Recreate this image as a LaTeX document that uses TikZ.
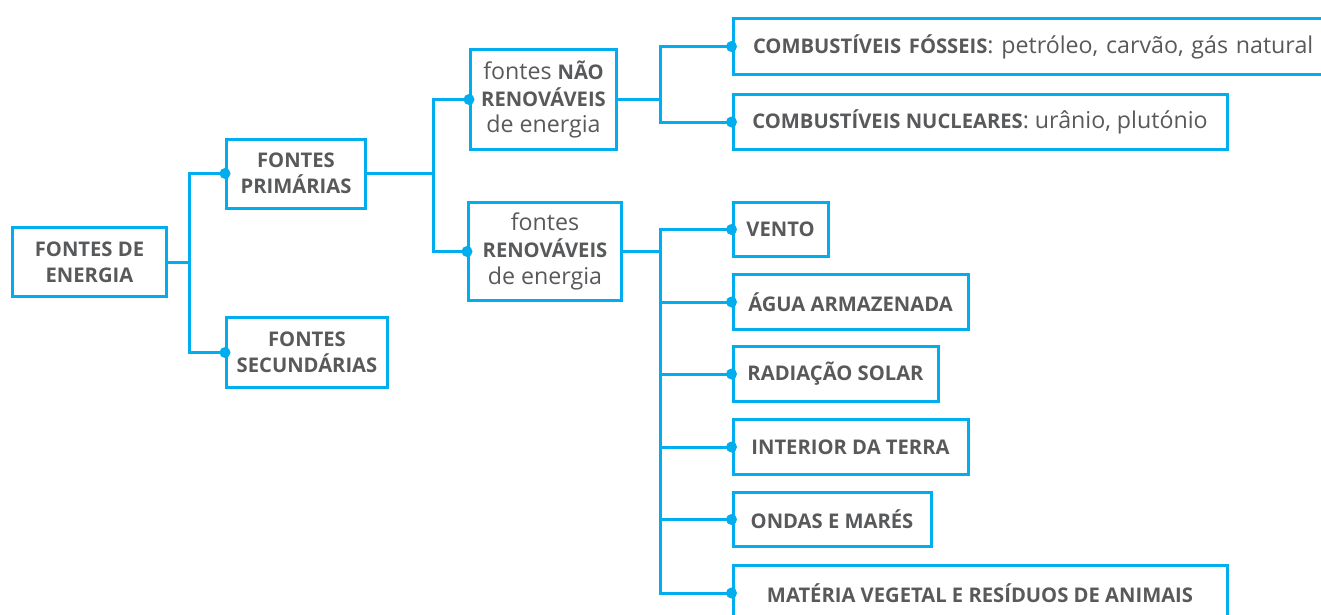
\documentclass[tikz,border=0pt]{standalone}
\usepackage{fontspec}
\setmainfont{Open Sans}
\usepackage{tikz}
\usetikzlibrary{positioning}
\usepackage{xcolor}

\definecolor{fontblue}{RGB}{0,174,239}
\definecolor{fontgray}{RGB}{88,89,91}

\newcommand{\caps}[1]{{\fontsize{20.2}{26.8}\selectfont\bfseries #1}}

\begin{document}
\begin{tikzpicture}[x=1pt,y=-1pt,
    fbox/.style={draw=fontblue, line width=3pt, text=fontgray, align=center, inner sep=0pt,
        font=\fontsize{23.2}{26.8}\selectfont},
    leaf/.style={fbox, anchor=west},
    link/.style={draw=fontblue, line width=3pt},
    knot/.style={fill=fontblue}]

\clip (0,0) rectangle (1321,614);

% left part
\begin{scope}
{
\node[fbox, minimum width=154, minimum height=69] (energia) at (89.5,262) {\caps{FONTES DE}\\[-1pt]\caps{ENERGIA}};

\node[fbox, minimum width=139, minimum height=69] (primarias) at (296,173.5) {\caps{FONTES}\\[-1pt]\caps{PRIMÁRIAS}};
\node[fbox, minimum width=161, minimum height=70] (secundarias) at (307,352.5) {\caps{FONTES}\\[-1pt]\caps{SECUNDÁRIAS}};

\node[fbox, minimum width=146, minimum height=100] (naorenov) at (543.5,99.5) {fontes \caps{NÃO}\\\caps{RENOVÁVEIS}\\de energia};
\node[fbox, minimum width=153, minimum height=98] (renov) at (545,251.5) {fontes\\\caps{RENOVÁVEIS}\\de energia};

\coordinate (t1) at (189,0);
\coordinate (t2) at (433,0);

\draw[link] (energia.east) -- (t1 |- energia.east) |- (primarias.west);
\draw[link] (t1 |- energia.east) |- (secundarias.west);
\draw[link] (primarias.east) -- (t2 |- primarias.east) |- (naorenov.west);
\draw[link] (t2 |- primarias.east) |- (renov.west);

\fill[knot] (primarias.west) circle [radius=5.5pt];
\fill[knot] (secundarias.west) circle [radius=5.5pt];
\fill[knot] (naorenov.west) circle [radius=5.5pt];
\fill[knot] (renov.west) circle [radius=5.5pt];
}
\end{scope}

% right part
\begin{scope}
{
\node[leaf, text width=580, align=left, inner xsep=20, minimum height=56] (fosseis) at (731.5,46.5) {\mbox{\caps{COMBUSTÍVEIS FÓSSEIS}: petróleo, carvão, gás natural}};
\node[leaf, minimum width=494, minimum height=55] (nucleares) at (731.5,122) {\caps{COMBUSTÍVEIS NUCLEARES}: urânio, plutónio};

\node[leaf, minimum width=95, minimum height=54] (vento) at (731.5,229.5) {\caps{VENTO}};
\node[leaf, minimum width=235, minimum height=55] (agua) at (731.5,302) {\caps{ÁGUA ARMAZENADA}};
\node[leaf, minimum width=205, minimum height=55] (radiacao) at (731.5,374) {\caps{RADIAÇÃO SOLAR}};
\node[leaf, minimum width=235, minimum height=55] (interior) at (731.5,447) {\caps{INTERIOR DA TERRA}};
\node[leaf, minimum width=198, minimum height=54] (ondas) at (731.5,519.5) {\caps{ONDAS E MARÉS}};
\node[leaf, minimum width=494, minimum height=55] (materia) at (731.5,593) {\caps{MATÉRIA VEGETAL E RESÍDUOS DE ANIMAIS}};

\coordinate (t3) at (660,0);

\draw[link] (naorenov.east) -- (t3 |- naorenov.east) |- (fosseis.west);
\draw[link] (t3 |- naorenov.east) |- (nucleares.west);

\draw[link] (renov.east) -- (t3 |- renov.east);
\foreach \n in {vento,agua,radiacao,interior,ondas,materia}
{
\draw[link] (t3 |- renov.east) |- (\n.west);
\fill[knot] (\n.west) circle [radius=5.5pt];
}

\fill[knot] (fosseis.west) circle [radius=5.5pt];
\fill[knot] (nucleares.west) circle [radius=5.5pt];
}
\end{scope}

\end{tikzpicture}
\end{document}
